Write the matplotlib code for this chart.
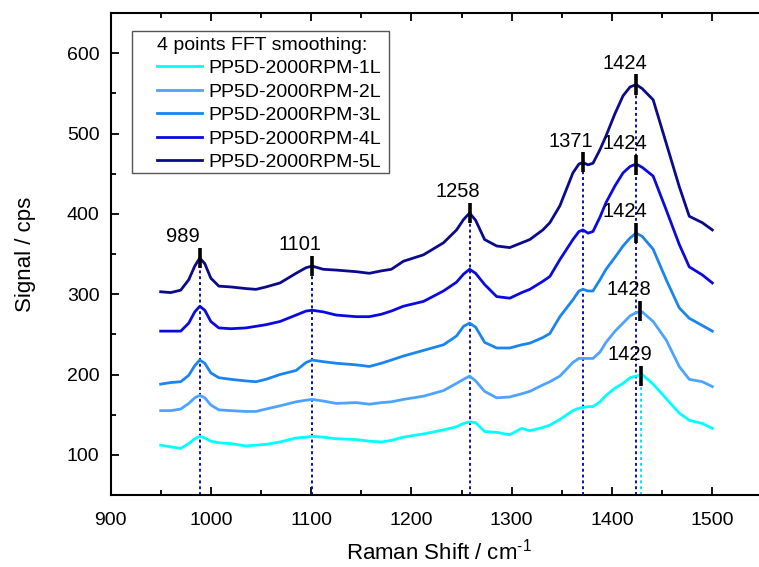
import numpy as np
import matplotlib
matplotlib.use('Agg')
import matplotlib.pyplot as plt
import matplotlib.patches as patches
from matplotlib.ticker import MultipleLocator

plt.rcParams['font.family'] = ['Liberation Sans', 'DejaVu Sans']
plt.rcParams['mathtext.fontset'] = 'custom'
plt.rcParams['mathtext.rm'] = 'Liberation Sans'

# Raman shift grid (cm^-1)
shift = [950, 960, 970, 978, 984, 989, 994, 1000, 1008, 1020, 1035, 1045, 1055,
         1069, 1085, 1095, 1101, 1112, 1125, 1145, 1158, 1170, 1180, 1192, 1212,
         1232, 1245, 1252, 1258, 1264, 1273, 1285, 1298, 1310, 1318, 1331, 1338,
         1348, 1361, 1367, 1371, 1376, 1381, 1388, 1394, 1403, 1411, 1418, 1424,
         1430, 1441, 1454, 1467, 1477, 1490, 1500]

sig_1L = [112, 110, 108, 114, 120, 123, 121, 117, 115, 114, 111, 112, 113,
          116, 121, 122, 123, 122, 120, 119, 117, 116, 118, 122, 126,
          131, 135, 139, 141, 140, 129, 128, 125, 133, 130, 134, 137,
          144, 155, 158, 159, 160, 160, 166, 174, 183, 189, 196, 198,
          200, 188, 170, 152, 143, 139, 133]
sig_2L = [155, 155, 157, 164, 171, 174, 171, 162, 156, 155, 154, 154, 157,
          161, 166, 168, 169, 167, 164, 165, 163, 165, 166, 169, 173,
          180, 189, 194, 198, 192, 179, 171, 172, 176, 179, 187, 191,
          198, 215, 220, 220, 220, 220, 228, 240, 254, 264, 273, 277,
          278, 266, 243, 210, 194, 191, 185]
sig_3L = [188, 190, 191, 199, 211, 218, 214, 202, 196, 194, 192, 191, 194,
          200, 205, 215, 218, 216, 214, 212, 210, 214, 218, 223, 230,
          237, 248, 260, 264, 259, 240, 233, 233, 237, 239, 246, 251,
          272, 293, 304, 306, 304, 304, 318, 331, 346, 360, 370, 376,
          372, 356, 318, 283, 270, 261, 254]
sig_4L = [254, 254, 254, 264, 278, 285, 280, 266, 258, 257, 258, 260, 262,
          266, 274, 279, 280, 278, 274, 272, 272, 275, 279, 285, 291,
          304, 315, 325, 331, 326, 312, 297, 295, 302, 306, 316, 322,
          343, 368, 378, 380, 376, 378, 396, 414, 435, 451, 459, 462,
          458, 447, 405, 362, 334, 324, 314]
sig_5L = [303, 302, 305, 318, 335, 345, 338, 320, 310, 309, 307, 306, 309,
          314, 326, 333, 335, 331, 330, 328, 326, 329, 331, 341, 349,
          364, 380, 393, 401, 392, 368, 360, 358, 364, 368, 380, 389,
          410, 451, 462, 464, 461, 463, 480, 497, 525, 547, 558, 561,
          556, 542, 488, 434, 397, 389, 380]

labels = ['PP5D-2000RPM-1L', 'PP5D-2000RPM-2L', 'PP5D-2000RPM-3L',
          'PP5D-2000RPM-4L', 'PP5D-2000RPM-5L']
colors = ['#00FFFF', '#4DA3FF', '#1A85F0', '#0A0AE0', '#0A0A8C']

# peak marks: position, signal at peak, label text
peak_pos = [989, 1101, 1258, 1371, 1424, 1424, 1424, 1428, 1429]
peak_val = [345, 335, 401, 464, 561, 461, 376, 279, 198]
peak_txt = ['989', '1101', '1258', '1371', '1424', '1424', '1424', '1428', '1429']
# dotted guide lines: (index into peaks, colour)
guides = [(0, '#1010A0'), (1, '#1010A0'), (2, '#1010A0'), (3, '#1010A0'),
          (4, '#1010A0'), (8, '#00E5FF')]

fig = plt.figure(figsize=(7.59, 5.67), dpi=100)
ax = fig.add_axes([0.1456, 0.127, 0.866, 0.850])

series = [sig_1L, sig_2L, sig_3L, sig_4L, sig_5L]
for s, lab, c in zip(series, labels, colors):
    ax.plot(shift, s, color=c, lw=2.0, label=lab, zorder=3)

half = 12.5
for i, c in guides:
    ax.plot([peak_pos[i], peak_pos[i]], [50, peak_val[i] - half],
            ls=(0, (1.5, 1.5)), color=c, lw=1.4, zorder=2)

for p, v, t in zip(peak_pos, peak_val, peak_txt):
    ax.plot([p, p], [v - half, v + half], color='black', lw=2.6, zorder=5,
            solid_capstyle='butt')
    ax.text(p - 34, v + half + 7, t, ha='left', va='baseline', fontsize=14.5,
            zorder=6)

ax.set_xlim(900, 1555.3)
ax.set_ylim(50, 650)
ax.xaxis.set_minor_locator(MultipleLocator(50))
ax.yaxis.set_minor_locator(MultipleLocator(50))
ax.set_xticks([900, 1000, 1100, 1200, 1300, 1400, 1500])
ax.set_yticks([100, 200, 300, 400, 500, 600])
ax.tick_params(which='both', direction='in', top=True, right=True,
               width=1.3, labelsize=14)
ax.tick_params(axis='x', pad=12)
ax.tick_params(axis='y', pad=8)
ax.tick_params(which='major', length=6)
ax.tick_params(which='minor', length=3.5)
for sp in ax.spines.values():
    sp.set_linewidth(1.5)

ax.set_xlabel('Raman Shift / cm$^{\\text{-1}}$', fontsize=16, labelpad=7)
ax.set_ylabel('Signal / cps', fontsize=16, labelpad=22)

# legend box drawn by hand so the padding matches
box = patches.Rectangle((0.0327, 0.668), 0.391, 0.2947, transform=ax.transAxes,
                        facecolor='white', edgecolor='#555555', lw=1.0, zorder=7)
ax.add_patch(box)
leg = ax.legend(loc='upper left', bbox_to_anchor=(0.0707, 0.950),
                borderaxespad=0, title='4 points FFT smoothing:',
                title_fontsize=14, fontsize=14, frameon=False,
                handlelength=2.3, handletextpad=0.35, labelspacing=0.3,
                borderpad=0)
leg._legend_box.align = 'left'
leg._legend_box.sep = 4
leg.set_zorder(8)

fig.savefig('out.png', dpi=100)
